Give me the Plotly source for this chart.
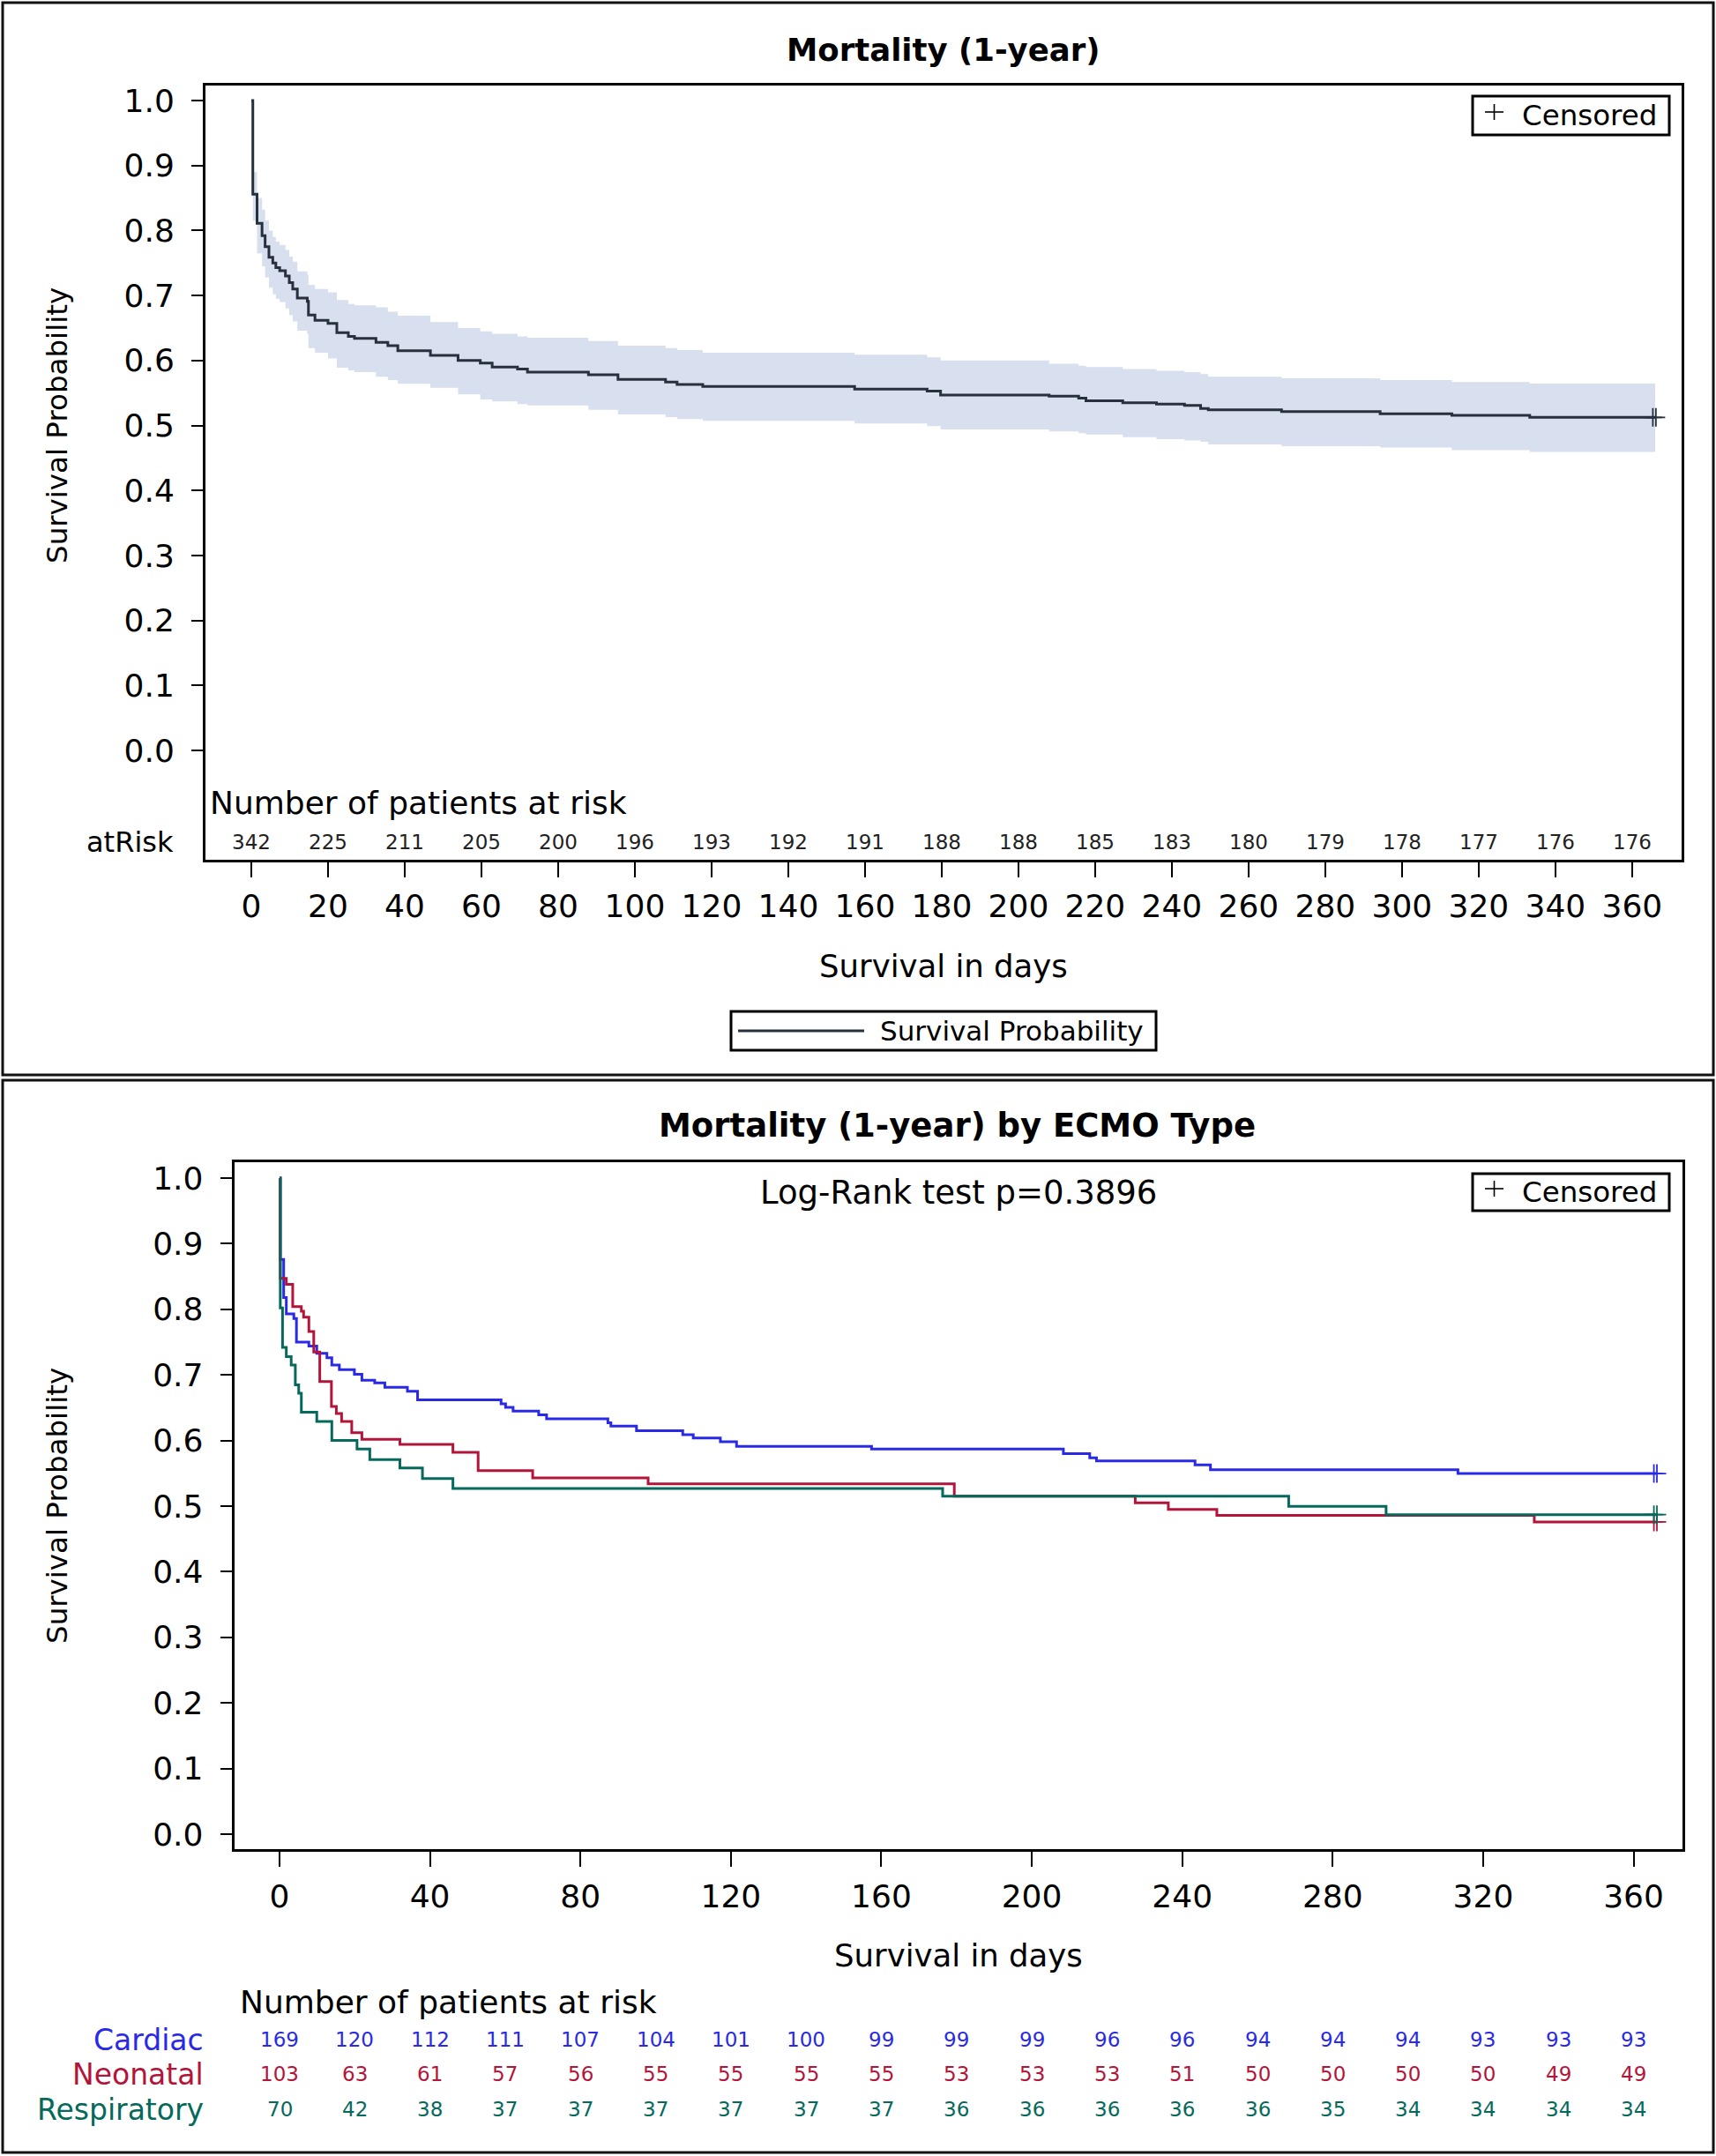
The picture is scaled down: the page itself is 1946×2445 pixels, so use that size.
import plotly.graph_objects as go

W, H = 1946, 2445


def px(x):
    return x / W


def py(y):
    return 1 - y / H


# ---------------- DATA ----------------
# Overall Kaplan-Meier curve (days, survival, 95% CI)
overall_time = [0, 0.4, 1.5, 2.8, 3.6, 4.6, 5.6, 6.4, 7.4, 8.9, 9.9, 10.8, 12.0, 14.6, 14.9, 16.6,
                20.0, 22.3, 25.3, 26.9, 32.5, 35.6, 38.2, 46.7, 53.9, 59.7, 62.8, 69.4, 72.0, 87.9,
                95.6, 108, 111, 117.7, 157.3, 176.2, 179.7, 208, 215.7, 217.6, 227.2, 236, 243.3,
                247.5, 249.5, 268.6, 294.3, 313, 333.3, 366]
overall_surv = [1.0, 0.856, 0.811, 0.792, 0.775, 0.759, 0.750, 0.743, 0.738, 0.730, 0.720, 0.710,
                0.696, 0.691, 0.670, 0.662, 0.657, 0.643, 0.637, 0.634, 0.628, 0.623, 0.615, 0.608,
                0.600, 0.596, 0.590, 0.587, 0.582, 0.578, 0.571, 0.567, 0.563, 0.560, 0.556, 0.553,
                0.547, 0.545, 0.542, 0.538, 0.535, 0.533, 0.531, 0.526, 0.524, 0.5215, 0.518,
                0.5156, 0.5125, 0.5125]
overall_lcl = [1.0, 0.815, 0.765, 0.745, 0.728, 0.712, 0.702, 0.695, 0.690, 0.680, 0.670, 0.660,
               0.646, 0.640, 0.619, 0.612, 0.603, 0.589, 0.585, 0.582, 0.575, 0.570, 0.564, 0.558,
               0.548, 0.540, 0.537, 0.533, 0.531, 0.524, 0.517, 0.513, 0.510, 0.507, 0.503, 0.499,
               0.494, 0.491, 0.488, 0.486, 0.482, 0.479, 0.477, 0.475, 0.471, 0.468, 0.466, 0.462,
               0.4595, 0.4595]
overall_ucl = [1.0, 0.890, 0.850, 0.832, 0.815, 0.800, 0.790, 0.783, 0.778, 0.770, 0.760, 0.752,
               0.737, 0.732, 0.716, 0.710, 0.705, 0.693, 0.687, 0.685, 0.682, 0.675, 0.669, 0.659,
               0.650, 0.645, 0.641, 0.637, 0.635, 0.630, 0.623, 0.619, 0.616, 0.612, 0.609, 0.605,
               0.600, 0.595, 0.592, 0.590, 0.587, 0.584, 0.582, 0.579, 0.575, 0.5726, 0.570, 0.567,
               0.5645, 0.5645]
overall_censor_t = [365.4, 366.2]

risk_days = [0, 20, 40, 60, 80, 100, 120, 140, 160, 180, 200, 220, 240, 260, 280, 300, 320, 340, 360]
overall_at_risk = [342, 225, 211, 205, 200, 196, 193, 192, 191, 188, 188, 185, 183, 180, 179, 178,
                   177, 176, 176]

# By ECMO type
groups = ["Cardiac", "Neonatal", "Respiratory"]
cardiac_time = [0, 0.2, 1.1, 1.8, 3.8, 4.5, 7.8, 9.9, 12.6, 13.9, 15.9, 19.9, 21.9, 25.3, 28, 34,
                36.7, 58.9, 60.1, 62.1, 68.9, 71.0, 87.3, 88.1, 94.9, 107.2, 110, 117.2, 121.5,
                157.4, 208.4, 215.4, 217.2, 243.4, 247.5, 313.3, 366]
cardiac_surv = [1.0, 0.876, 0.818, 0.793, 0.786, 0.750, 0.744, 0.733, 0.726, 0.715, 0.708, 0.701,
                0.692, 0.688, 0.681, 0.675, 0.662, 0.656, 0.6505, 0.645, 0.639, 0.633, 0.627,
                0.622, 0.615, 0.609, 0.604, 0.598, 0.591, 0.587, 0.580, 0.5735, 0.569, 0.563,
                0.5555, 0.5497, 0.5497]
neonatal_time = [0, 0.2, 1.8, 3.5, 5.8, 6.4, 7.8, 9.1, 10.7, 13.8, 15.1, 16.5, 19.2, 21.9, 32,
                 46.1, 52.8, 67.3, 98, 179.4, 227.5, 236.3, 249.2, 333.6, 366]
neonatal_surv = [1.0, 0.847, 0.838, 0.804, 0.797, 0.788, 0.766, 0.735, 0.690, 0.652, 0.641, 0.629,
                 0.612, 0.602, 0.594, 0.582, 0.554, 0.543, 0.534, 0.515, 0.505, 0.495, 0.486,
                 0.476, 0.476]
respiratory_time = [0, 0.2, 0.8, 1.8, 3.1, 4.2, 5.1, 5.8, 9.9, 13.9, 20.6, 24, 32, 38, 46.1,
                    176.3, 268.3, 294.2, 366]
respiratory_surv = [1.0, 0.802, 0.742, 0.728, 0.715, 0.685, 0.672, 0.643, 0.629, 0.600, 0.587,
                    0.571, 0.558, 0.542, 0.527, 0.515, 0.4996, 0.487, 0.487]
group_censor_t = [365.4, 366.2]

cardiac_at_risk = [169, 120, 112, 111, 107, 104, 101, 100, 99, 99, 99, 96, 96, 94, 94, 94, 93, 93, 93]
neonatal_at_risk = [103, 63, 61, 57, 56, 55, 55, 55, 55, 53, 53, 53, 51, 50, 50, 50, 50, 49, 49]
respiratory_at_risk = [70, 42, 38, 37, 37, 37, 37, 37, 37, 36, 36, 36, 36, 36, 35, 34, 34, 34, 34]

top_xticks = list(range(0, 361, 20))
bottom_xticks = list(range(0, 361, 40))
yticks = [0.0, 0.1, 0.2, 0.3, 0.4, 0.5, 0.6, 0.7, 0.8, 0.9, 1.0]

# ---------------- STYLE ----------------
FONT = "DejaVu Sans"
DARK = "#27303D"
BAND = "#D8DFEE"
COLORS = {"Cardiac": "#2A2AE6", "Neonatal": "#B3153A", "Respiratory": "#05695C"}

fig = go.Figure()

# ---- Top panel ----
fig.add_trace(go.Scatter(x=overall_time, y=overall_lcl, mode="lines",
                         line=dict(width=0, shape="hv", color=BAND), showlegend=False,
                         hoverinfo="skip", xaxis="x", yaxis="y"))
fig.add_trace(go.Scatter(x=overall_time, y=overall_ucl, mode="lines",
                         line=dict(width=0, shape="hv", color=BAND), fill="tonexty",
                         fillcolor=BAND, showlegend=False, hoverinfo="skip",
                         xaxis="x", yaxis="y"))
fig.add_trace(go.Scatter(x=overall_time, y=overall_surv, mode="lines",
                         line=dict(width=3, shape="hv", color=DARK), showlegend=False,
                         xaxis="x", yaxis="y"))
fig.add_trace(go.Scatter(x=overall_censor_t, y=[overall_surv[-1]] * len(overall_censor_t),
                         mode="markers",
                         marker=dict(symbol="cross-thin", size=15, color=DARK,
                                     line=dict(width=1.8, color=DARK)),
                         showlegend=False, xaxis="x", yaxis="y"))

# ---- Bottom panel ----
series = [("Cardiac", cardiac_time, cardiac_surv),
          ("Neonatal", neonatal_time, neonatal_surv),
          ("Respiratory", respiratory_time, respiratory_surv)]
for name, t, s in series:
    fig.add_trace(go.Scatter(x=t, y=s, mode="lines",
                             line=dict(width=3, shape="hv", color=COLORS[name]),
                             showlegend=False, xaxis="x2", yaxis="y2"))
for name, t, s in series:
    fig.add_trace(go.Scatter(x=group_censor_t, y=[s[-1]] * len(group_censor_t), mode="markers",
                             marker=dict(symbol="cross-thin", size=15, color=COLORS[name],
                                         line=dict(width=1.8, color=COLORS[name])),
                             showlegend=False, xaxis="x2", yaxis="y2"))

axis_common = dict(showline=True, mirror=True, linewidth=3, linecolor="black",
                   showgrid=False, zeroline=False, ticks="outside", tickcolor="black",
                   tickwidth=2, tickfont=dict(family=FONT, size=36, color="black"))

fig.update_layout(
    width=W, height=H,
    margin=dict(l=0, r=0, t=0, b=0, autoexpand=False),
    paper_bgcolor="white", plot_bgcolor="white",
    showlegend=False,
    xaxis=dict(domain=[px(233), px(1907)], range=[-11.95, 372.9], tickvals=top_xticks,
               ticklen=17, anchor="y", ticklabelstandoff=2, **axis_common),
    yaxis=dict(domain=[py(975), py(97)], range=[-0.1682, 1.0231], tickvals=yticks,
               tickformat=".1f", ticklen=13, anchor="x", ticklabelstandoff=12, **axis_common),
    xaxis2=dict(domain=[px(265.6), px(1908)], range=[-12.05, 373.0], tickvals=bottom_xticks,
                ticklen=17, anchor="y2", ticklabelstandoff=3, **axis_common),
    yaxis2=dict(domain=[py(2097), py(1318)], range=[-0.0228, 1.0242], tickvals=yticks,
                tickformat=".1f", ticklen=13, anchor="x2", ticklabelstandoff=12, **axis_common),
)

ann = []


def text(x, y, s, size, color="black", xanchor="center", bold=False, angle=0):
    ann.append(dict(x=px(x), y=py(y), xref="paper", yref="paper", text=s, showarrow=False,
                    xanchor=xanchor, yanchor="middle", textangle=angle,
                    font=dict(family=FONT, size=size, color=color,
                              weight="bold" if bold else "normal")))


# Titles
text(1070, 56, "Mortality (1-year)", 35.5, bold=True)
text(1085, 1276, "Mortality (1-year) by ECMO Type", 37, bold=True)
# Axis titles
text(1070, 1095, "Survival in days", 35.5)
text(1087, 2217, "Survival in days", 35.5)
text(65, 483, "Survival Probability", 32.5, angle=-90)
text(65, 1708, "Survival Probability", 32.5, angle=-90)
# Log-rank
text(1087, 1352, "Log-Rank test p=0.3896", 37)
# At risk headers
text(236, 910, "Number of patients at risk", 36, xanchor="left")
text(270, 2270, "Number of patients at risk", 36, xanchor="left")
text(199, 955, "atRisk", 32, xanchor="right")

# Top at-risk numbers (inside the plot area)
for d, n in zip(risk_days, overall_at_risk):
    ann.append(dict(x=d, y=py(955), xref="x", yref="paper", text=str(n), showarrow=False,
                    xanchor="center", yanchor="middle",
                    font=dict(family=FONT, size=23, color="#222222")))

# Bottom at-risk table
rows = [("Cardiac", cardiac_at_risk, 2313), ("Neonatal", neonatal_at_risk, 2352),
        ("Respiratory", respiratory_at_risk, 2392)]
for name, vals, yy in rows:
    text(233, yy, name, 33, color=COLORS[name], xanchor="right")
    for d, n in zip(risk_days, vals):
        ann.append(dict(x=d, y=py(yy), xref="x2", yref="paper", text=str(n), showarrow=False,
                        xanchor="center", yanchor="middle",
                        font=dict(family=FONT, size=23, color=COLORS[name])))

# Censored legends
for (y0, y1) in [(109, 153), (1331, 1373)]:
    text(1724, (y0 + y1) / 2, "Censored", 32.5, xanchor="left")

# Survival Probability legend text
text(996, 1169, "Survival Probability", 31, xanchor="left")

fig.update_layout(annotations=ann)

shapes = []


def rect(x0, y0, x1, y1, w=3, color="black"):
    shapes.append(dict(type="rect", xref="paper", yref="paper", x0=px(x0), x1=px(x1),
                       y0=py(y0), y1=py(y1), line=dict(color=color, width=w)))


def line(x0, y0, x1, y1, w=2, color="black"):
    shapes.append(dict(type="line", xref="paper", yref="paper", x0=px(x0), x1=px(x1),
                       y0=py(y0), y1=py(y1), line=dict(color=color, width=w)))


# Panel frames
rect(3, 3, 1943, 1219, w=3, color="#111111")
rect(3, 1225, 1943, 2441, w=3, color="#111111")
# Censored legend boxes with thin plus signs
for (y0, y1) in [(109, 153), (1331, 1373)]:
    rect(1670, y0, 1893, y1, w=3)
    cy = (y0 + y1) / 2 - 4
    line(1684, cy, 1705, cy, w=1.6)
    line(1694.5, cy - 9, 1694.5, cy + 9, w=1.6)
# Survival Probability legend
rect(829, 1147, 1311, 1191, w=3)
line(837, 1169, 980, 1169, w=3, color=DARK)

fig.update_layout(shapes=shapes)

fig.write_html("out.html", config={"displayModeBar": False},
               post_script="document.body.style.margin='0';document.body.style.overflow='hidden';")
